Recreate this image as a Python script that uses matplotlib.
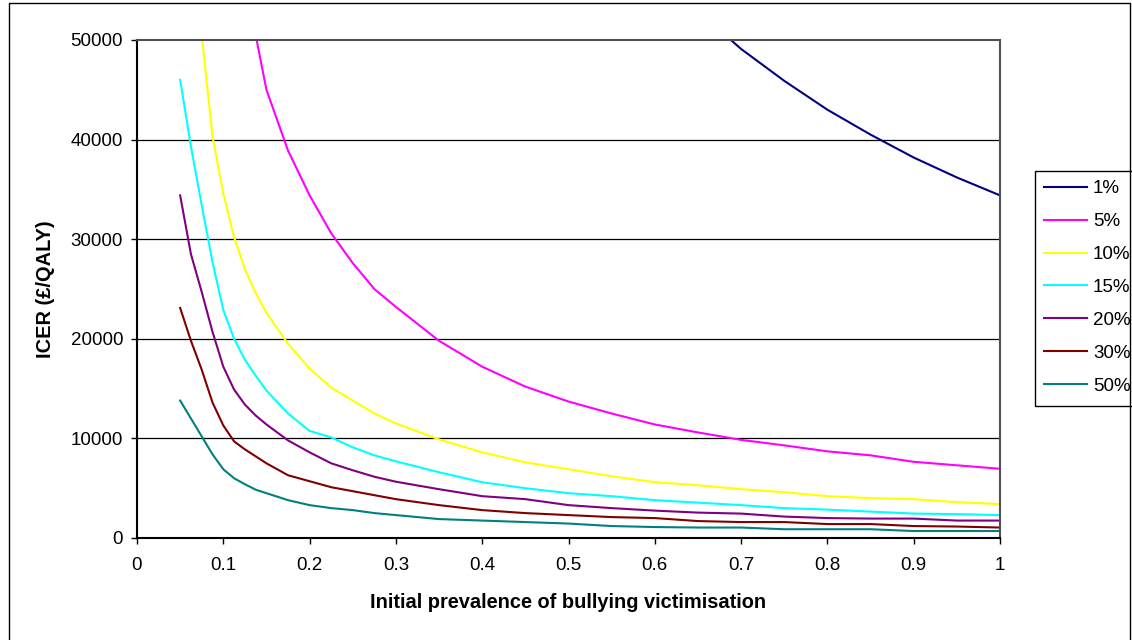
import numpy as np
import matplotlib
matplotlib.use("Agg")
import matplotlib.pyplot as plt
from matplotlib.patches import Rectangle

plt.rcParams['font.family'] = ['Liberation Sans', 'DejaVu Sans']

# data (nan = above the 50000 cut-off)
nan = np.nan
prevalence = [0.05, 0.0625, 0.075, 0.0875, 0.1, 0.1125, 0.125, 0.1375, 0.15, 0.175,
              0.2, 0.225, 0.25, 0.275, 0.3, 0.35, 0.4, 0.45, 0.5, 0.55,
              0.6, 0.65, 0.7, 0.75, 0.8, 0.85, 0.9, 0.95, 1.0]

icer_1 = [nan] * 21 + [52900, 49100, 45900, 43000, 40500, 38200, 36200, 34400]
icer_5 = [nan] * 6 + [56000, 50500, 45000, 38900, 34400, 30600, 27600, 25000, 23200, 19800,
                      17200, 15200, 13700, 12500, 11400, 10600, 9850, 9300, 8700, 8300,
                      7650, 7300, 6950]
icer_10 = [nan, 60000, 50500, 40300, 34600, 30200, 27000, 24600, 22600, 19500,
           17000, 15100, 13800, 12500, 11500, 9900, 8600, 7600, 6900, 6200,
           5600, 5300, 4900, 4600, 4200, 4000, 3900, 3600, 3400]
icer_15 = [46000, 39300, 33400, 27700, 22900, 20000, 17900, 16300, 14800, 12500,
           10750, 10100, 9100, 8300, 7700, 6600, 5600, 5000, 4500, 4200,
           3800, 3550, 3300, 3000, 2850, 2650, 2450, 2400, 2300]
icer_20 = [34400, 28500, 24700, 20700, 17200, 14900, 13400, 12300, 11400, 9800,
           8600, 7500, 6800, 6150, 5650, 4900, 4200, 3900, 3300, 3000,
           2750, 2550, 2450, 2150, 2000, 1950, 1950, 1750, 1750]
icer_30 = [23100, 19800, 16900, 13600, 11300, 9700, 8900, 8200, 7500, 6300,
           5700, 5100, 4700, 4300, 3900, 3300, 2800, 2500, 2300, 2100,
           2000, 1700, 1600, 1600, 1400, 1400, 1200, 1150, 1050]
icer_50 = [13800, 12000, 10200, 8400, 6900, 6000, 5400, 4850, 4500, 3800,
           3300, 3000, 2800, 2500, 2300, 1900, 1750, 1600, 1450, 1200,
           1100, 1050, 1050, 880, 880, 880, 700, 700, 700]

series_labels = ["1%", "5%", "10%", "15%", "20%", "30%", "50%"]
series_values = [icer_1, icer_5, icer_10, icer_15, icer_20, icer_30, icer_50]
series_colors = ["#000080", "#FF00FF", "#FFFF00", "#00FFFF", "#800080", "#800000", "#008080"]

x_ticks = [0, 0.1, 0.2, 0.3, 0.4, 0.5, 0.6, 0.7, 0.8, 0.9, 1]
x_ticklabels = ["0", "0.1", "0.2", "0.3", "0.4", "0.5", "0.6", "0.7", "0.8", "0.9", "1"]
y_ticks = [0, 10000, 20000, 30000, 40000, 50000]

W, H = 1132, 640
fig = plt.figure(figsize=(W / 100, H / 100), dpi=100)
ax = fig.add_axes([137 / W, 1 - 538 / H, 863 / W, 498 / H])

for vals, lab, col in zip(series_values, series_labels, series_colors):
    ax.plot(prevalence, vals, color=col, lw=1.5, label=lab)

ax.set_xlim(0, 1)
ax.set_ylim(0, 50000)
ax.set_xticks(x_ticks)
ax.set_xticklabels(x_ticklabels)
ax.set_yticks(y_ticks)
ax.set_yticklabels([str(v) for v in y_ticks])

for v in y_ticks[1:-1]:
    ax.axhline(v, color="black", lw=0.9, zorder=0.5)

ax.tick_params(axis="y", direction="out", length=4, width=1, pad=6, labelsize=13.5)
ax.tick_params(axis="x", direction="out", length=4.3, width=1, pad=9.5, labelsize=13.5)

for s in ["left", "bottom"]:
    ax.spines[s].set_linewidth(1.5)
    ax.spines[s].set_color("black")
for s in ["top", "right"]:
    ax.spines[s].set_linewidth(1.5)
    ax.spines[s].set_color("#505050")

ax.set_xlabel("Initial prevalence of bullying victimisation", fontsize=14.4, fontweight="bold")
ax.xaxis.set_label_coords(0.5, (538 - 602) / 498)
ax.xaxis.label.set_verticalalignment("center")
ax.set_ylabel("ICER (£/QALY)", fontsize=14.4, fontweight="bold")
ax.yaxis.set_label_coords((45 - 137) / 863, 0.5)
ax.yaxis.label.set_verticalalignment("center")

leg = fig.legend(loc="upper left", bbox_to_anchor=(1035 / W, 1 - 171 / H),
                 borderaxespad=0, fontsize=13.5, frameon=False,
                 handlelength=2.3, handletextpad=0.3, labelspacing=0.84,
                 borderpad=0.49)

# legend box runs off the right edge of the chart, as in the original
fig.patches.append(Rectangle((1035 / W, 1 - 406 / H), 120 / W, 235 / H,
                             transform=fig.transFigure, fill=False,
                             edgecolor="black", lw=1.0))

# outer chart-area border
fig.patches.append(Rectangle((9 / W, -0.01), (1130 - 9) / W, 1.01 - 3 / H,
                             transform=fig.transFigure, fill=False,
                             edgecolor="black", lw=1.0))

fig.savefig("out.png", dpi=100)
